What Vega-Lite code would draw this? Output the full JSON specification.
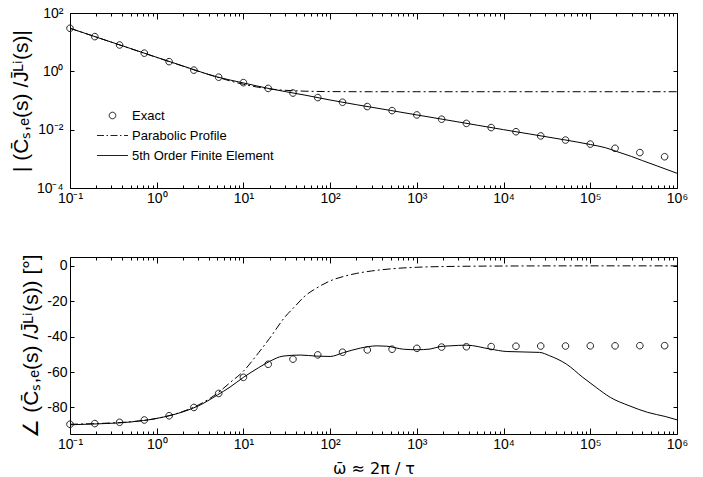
{
  "$schema": "https://vega.github.io/schema/vega-lite/v6.json",
  "autosize": {"type": "pad"},
  "padding": {"left": 9, "top": 5, "right": 5, "bottom": 5},
  "background": "white",
  "bounds": "flush",
  "spacing": 69,
  "config": {
    "font": "Liberation Sans",
    "view": {"stroke": "#000", "strokeWidth": 1},
    "axis": {"domain": false, "grid": false, "tickColor": "#000", "labelColor": "#000", "labelFont": "Liberation Sans", "labelFontSize": 14, "titleFont": "Liberation Sans", "titleFontWeight": "normal", "titleColor": "#000", "labelOverlap": false, "labelFlush": false}
  },
  "datasets": {
    "exact": [
      {"w": 0.1, "mag": 30, "ph": -89.5},
      {"w": 0.1931, "mag": 15.5, "ph": -89.1},
      {"w": 0.3728, "mag": 8.0, "ph": -88.4},
      {"w": 0.7197, "mag": 4.2, "ph": -87.1},
      {"w": 1.3895, "mag": 2.15, "ph": -84.7},
      {"w": 2.6827, "mag": 1.1, "ph": -80.0},
      {"w": 5.1795, "mag": 0.63, "ph": -72.1},
      {"w": 10, "mag": 0.41, "ph": -63.0},
      {"w": 19.307, "mag": 0.26, "ph": -55.6},
      {"w": 37.276, "mag": 0.18, "ph": -52.7},
      {"w": 71.969, "mag": 0.126, "ph": -50.3},
      {"w": 138.95, "mag": 0.087, "ph": -48.8},
      {"w": 268.27, "mag": 0.062, "ph": -47.5},
      {"w": 517.95, "mag": 0.045, "ph": -47.1},
      {"w": 1000, "mag": 0.032, "ph": -46.6},
      {"w": 1930.7, "mag": 0.0228, "ph": -45.9},
      {"w": 3727.6, "mag": 0.0164, "ph": -45.7},
      {"w": 7196.9, "mag": 0.0118, "ph": -45.6},
      {"w": 13895, "mag": 0.0085, "ph": -45.4},
      {"w": 26827, "mag": 0.0061, "ph": -45.3},
      {"w": 51795, "mag": 0.0044, "ph": -45.3},
      {"w": 100000, "mag": 0.0032, "ph": -45.2},
      {"w": 193070, "mag": 0.0023, "ph": -45.2},
      {"w": 372760, "mag": 0.00164, "ph": -45.1},
      {"w": 719690, "mag": 0.00118, "ph": -45.1}
    ],
    "parabolic": [
      {"w": 0.1, "mag": 30, "ph": -89.5},
      {"w": 0.2, "mag": 15, "ph": -89.1},
      {"w": 0.5, "mag": 6.0, "ph": -88.1},
      {"w": 1, "mag": 3.0, "ph": -86.2},
      {"w": 2, "mag": 1.51, "ph": -82.3},
      {"w": 3, "mag": 1.01, "ph": -78.7},
      {"w": 5, "mag": 0.63, "ph": -72},
      {"w": 7, "mag": 0.47, "ph": -66},
      {"w": 10, "mag": 0.36, "ph": -59.5},
      {"w": 15, "mag": 0.283, "ph": -49},
      {"w": 20, "mag": 0.25, "ph": -41},
      {"w": 30, "mag": 0.224, "ph": -29},
      {"w": 40, "mag": 0.215, "ph": -22.5},
      {"w": 50, "mag": 0.209, "ph": -17.5},
      {"w": 70, "mag": 0.205, "ph": -12.5},
      {"w": 100, "mag": 0.202, "ph": -8.5},
      {"w": 150, "mag": 0.201, "ph": -5.7},
      {"w": 200, "mag": 0.2, "ph": -4.3},
      {"w": 300, "mag": 0.2, "ph": -2.9},
      {"w": 500, "mag": 0.2, "ph": -1.7},
      {"w": 1000, "mag": 0.2, "ph": -0.8},
      {"w": 2000, "mag": 0.2, "ph": -0.4},
      {"w": 10000, "mag": 0.2, "ph": -0.1},
      {"w": 100000, "mag": 0.2, "ph": 0},
      {"w": 1000000, "mag": 0.2, "ph": 0}
    ],
    "fe_mag": [
      {"w": 0.1, "mag": 30},
      {"w": 0.2, "mag": 15},
      {"w": 0.5, "mag": 6.05},
      {"w": 1, "mag": 3.02},
      {"w": 2, "mag": 1.53},
      {"w": 5, "mag": 0.64},
      {"w": 10, "mag": 0.4},
      {"w": 20, "mag": 0.255},
      {"w": 50, "mag": 0.155},
      {"w": 100, "mag": 0.104},
      {"w": 200, "mag": 0.072},
      {"w": 500, "mag": 0.0455},
      {"w": 1000, "mag": 0.032},
      {"w": 2000, "mag": 0.0226},
      {"w": 5000, "mag": 0.0142},
      {"w": 10000, "mag": 0.01},
      {"w": 20000, "mag": 0.0071},
      {"w": 50000, "mag": 0.0045},
      {"w": 100000, "mag": 0.0031},
      {"w": 150000, "mag": 0.0024},
      {"w": 200000, "mag": 0.0018},
      {"w": 300000, "mag": 0.0012},
      {"w": 400000, "mag": 0.00087},
      {"w": 600000, "mag": 0.00056},
      {"w": 1000000, "mag": 0.00032}
    ],
    "fe_ph": [
      {"w": 0.1, "ph": -89.8},
      {"w": 0.2, "ph": -89.3},
      {"w": 0.5, "ph": -88.2},
      {"w": 1, "ph": -86.2},
      {"w": 2, "ph": -82.5},
      {"w": 3, "ph": -79.2},
      {"w": 5, "ph": -73},
      {"w": 7, "ph": -68.5},
      {"w": 10, "ph": -63},
      {"w": 15, "ph": -57.5},
      {"w": 20, "ph": -54},
      {"w": 28.6, "ph": -51},
      {"w": 45, "ph": -50.4},
      {"w": 70, "ph": -51},
      {"w": 100, "ph": -51.2},
      {"w": 143, "ph": -49},
      {"w": 222, "ph": -46.5},
      {"w": 346, "ph": -45.2},
      {"w": 450, "ph": -45.4},
      {"w": 700, "ph": -47.1},
      {"w": 1000, "ph": -47.4},
      {"w": 1420, "ph": -47},
      {"w": 1853, "ph": -45.6},
      {"w": 2420, "ph": -45.2},
      {"w": 3730, "ph": -44.8},
      {"w": 7000, "ph": -47},
      {"w": 10900, "ph": -48.4},
      {"w": 26000, "ph": -48.9},
      {"w": 34000, "ph": -50.8},
      {"w": 53000, "ph": -55.5},
      {"w": 82000, "ph": -63},
      {"w": 117000, "ph": -68.7},
      {"w": 170000, "ph": -74.3},
      {"w": 280000, "ph": -79},
      {"w": 460000, "ph": -82.8},
      {"w": 730000, "ph": -85.1},
      {"w": 1000000, "ph": -87}
    ]
  },
  "vconcat": [
    {
      "width": 607,
      "height": 175,
      "layer": [
        {
          "data": {"name": "exact"},
          "mark": {"type": "point", "filled": false, "size": 100, "stroke": "#222", "strokeWidth": 1, "opacity": 1},
          "encoding": {
            "x": {"field": "w", "type": "quantitative", "scale": {"type": "log", "domain": [0.1, 1000000], "nice": false},
              "axis": {"orient": "bottom", "title": null,
                "values": [0.1,0.2,0.3,0.4,0.5,0.6,0.7,0.8,0.9,1,2,3,4,5,6,7,8,9,10,20,30,40,50,60,70,80,90,100,200,300,400,500,600,700,800,900,1000,2000,3000,4000,5000,6000,7000,8000,9000,10000,20000,30000,40000,50000,60000,70000,80000,90000,100000,200000,300000,400000,500000,600000,700000,800000,900000,1000000],
                "labelExpr": "abs(log(datum.value)/LN10 - round(log(datum.value)/LN10)) < 0.001 ? '10' + ['⁻¹','⁰','¹','²','³','⁴','⁵','⁶'][round(log(datum.value)/LN10) + 1] : ''",
                "tickSize": {"condition": {"test": "abs(log(datum.value)/LN10 - round(log(datum.value)/LN10)) < 0.001", "value": -6}, "value": -3},
                "labelPadding": 9}},
            "y": {"field": "mag", "type": "quantitative", "scale": {"type": "log", "domain": [0.0001, 100], "nice": false},
              "axis": {"orient": "left", "values": [0.0001, 0.01, 1, 100], "tickSize": -4, "labelPadding": 11,
                "labelExpr": "'10' + ['⁻⁴','⁻³','⁻²','⁻¹','⁰','¹','²'][round(log(datum.value)/LN10) + 4]",
                "title": "| (C̄ₛ,ₑ(s) /J̄ᴸⁱ(s)|", "titleFontSize": 21, "titlePadding": 5}},
            "shape": {"datum": "Exact", "type": "nominal",
              "scale": {"domain": ["Exact", "Parabolic Profile", "5th Order Finite Element"],
                "range": ["M-0.66,0A0.66,0.66 0 1,0 0.66,0A0.66,0.66 0 1,0 -0.66,0Z", "M-3.1,0H-1.7M-1.2,0H-0.9M-0.4,0H1.0M1.5,0H1.8M2.3,0H3.1", "M-3.1,0H3.1"]},
              "legend": {"title": null, "orient": "none", "legendX": 36, "legendY": 96, "padding": 0, "symbolSize": 100, "rowPadding": 6, "labelOffset": 13, "labelFontSize": 13, "labelFont": "Liberation Sans", "labelColor": "#000", "labelLimit": 300, "symbolStrokeColor": "#222", "symbolFillColor": "transparent", "symbolStrokeWidth": 1}}
          }
        },
        {
          "data": {"name": "parabolic"},
          "mark": {"type": "line", "stroke": "#000", "strokeWidth": 1, "strokeDash": [8, 3, 2, 3], "interpolate": "monotone"},
          "encoding": {
            "x": {"field": "w", "type": "quantitative",
              "axis": {"orient": "top", "labels": false, "title": null,
                "values": [0.1,0.2,0.3,0.4,0.5,0.6,0.7,0.8,0.9,1,2,3,4,5,6,7,8,9,10,20,30,40,50,60,70,80,90,100,200,300,400,500,600,700,800,900,1000,2000,3000,4000,5000,6000,7000,8000,9000,10000,20000,30000,40000,50000,60000,70000,80000,90000,100000,200000,300000,400000,500000,600000,700000,800000,900000,1000000],
                "tickSize": {"condition": {"test": "abs(log(datum.value)/LN10 - round(log(datum.value)/LN10)) < 0.001", "value": -6}, "value": -3}}},
            "y": {"field": "mag", "type": "quantitative",
              "axis": {"orient": "right", "labels": false, "title": null, "values": [0.0001, 0.01, 1, 100], "tickSize": -4}}
          }
        },
        {
          "data": {"name": "fe_mag"},
          "mark": {"type": "line", "stroke": "#000", "strokeWidth": 1, "interpolate": "monotone"},
          "encoding": {
            "x": {"field": "w", "type": "quantitative", "axis": null},
            "y": {"field": "mag", "type": "quantitative", "axis": null}
          }
        }
      ]
    },
    {
      "width": 607,
      "height": 177,
      "layer": [
        {
          "data": {"name": "exact"},
          "mark": {"type": "point", "filled": false, "size": 100, "stroke": "#222", "strokeWidth": 1, "opacity": 1, "shape": "M-0.66,0A0.66,0.66 0 1,0 0.66,0A0.66,0.66 0 1,0 -0.66,0Z"},
          "encoding": {
            "x": {"field": "w", "type": "quantitative", "scale": {"type": "log", "domain": [0.1, 1000000], "nice": false},
              "axis": {"orient": "bottom", "title": "ω̄ ≈ 2π / τ", "titleFont": "DejaVu Sans", "titleFontSize": 16, "titlePadding": 6,
                "values": [0.1,0.2,0.3,0.4,0.5,0.6,0.7,0.8,0.9,1,2,3,4,5,6,7,8,9,10,20,30,40,50,60,70,80,90,100,200,300,400,500,600,700,800,900,1000,2000,3000,4000,5000,6000,7000,8000,9000,10000,20000,30000,40000,50000,60000,70000,80000,90000,100000,200000,300000,400000,500000,600000,700000,800000,900000,1000000],
                "labelExpr": "abs(log(datum.value)/LN10 - round(log(datum.value)/LN10)) < 0.001 ? '10' + ['⁻¹','⁰','¹','²','³','⁴','⁵','⁶'][round(log(datum.value)/LN10) + 1] : ''",
                "tickSize": {"condition": {"test": "abs(log(datum.value)/LN10 - round(log(datum.value)/LN10)) < 0.001", "value": -6}, "value": -3},
                "labelPadding": 9}},
            "y": {"field": "ph", "type": "quantitative", "scale": {"domain": [-95, 5], "nice": false, "zero": false},
              "axis": {"orient": "left", "values": [0, -20, -40, -60, -80], "tickSize": -4, "labelPadding": 7,
                "labelExpr": "'' + datum.value",
                "title": "∠ (C̄ₛ,ₑ(s) /J̄ᴸⁱ(s)) [°]", "titleFontSize": 21, "titlePadding": 5}}
          }
        },
        {
          "data": {"name": "parabolic"},
          "mark": {"type": "line", "stroke": "#000", "strokeWidth": 1, "strokeDash": [8, 3, 2, 3], "interpolate": "monotone"},
          "encoding": {
            "x": {"field": "w", "type": "quantitative",
              "axis": {"orient": "top", "labels": false, "title": null,
                "values": [0.1,0.2,0.3,0.4,0.5,0.6,0.7,0.8,0.9,1,2,3,4,5,6,7,8,9,10,20,30,40,50,60,70,80,90,100,200,300,400,500,600,700,800,900,1000,2000,3000,4000,5000,6000,7000,8000,9000,10000,20000,30000,40000,50000,60000,70000,80000,90000,100000,200000,300000,400000,500000,600000,700000,800000,900000,1000000],
                "tickSize": {"condition": {"test": "abs(log(datum.value)/LN10 - round(log(datum.value)/LN10)) < 0.001", "value": -6}, "value": -3}}},
            "y": {"field": "ph", "type": "quantitative",
              "axis": {"orient": "right", "labels": false, "title": null, "values": [0, -20, -40, -60, -80], "tickSize": -4}}
          }
        },
        {
          "data": {"name": "fe_ph"},
          "mark": {"type": "line", "stroke": "#000", "strokeWidth": 1, "interpolate": "monotone"},
          "encoding": {
            "x": {"field": "w", "type": "quantitative", "axis": null},
            "y": {"field": "ph", "type": "quantitative", "axis": null}
          }
        }
      ]
    }
  ]
}
